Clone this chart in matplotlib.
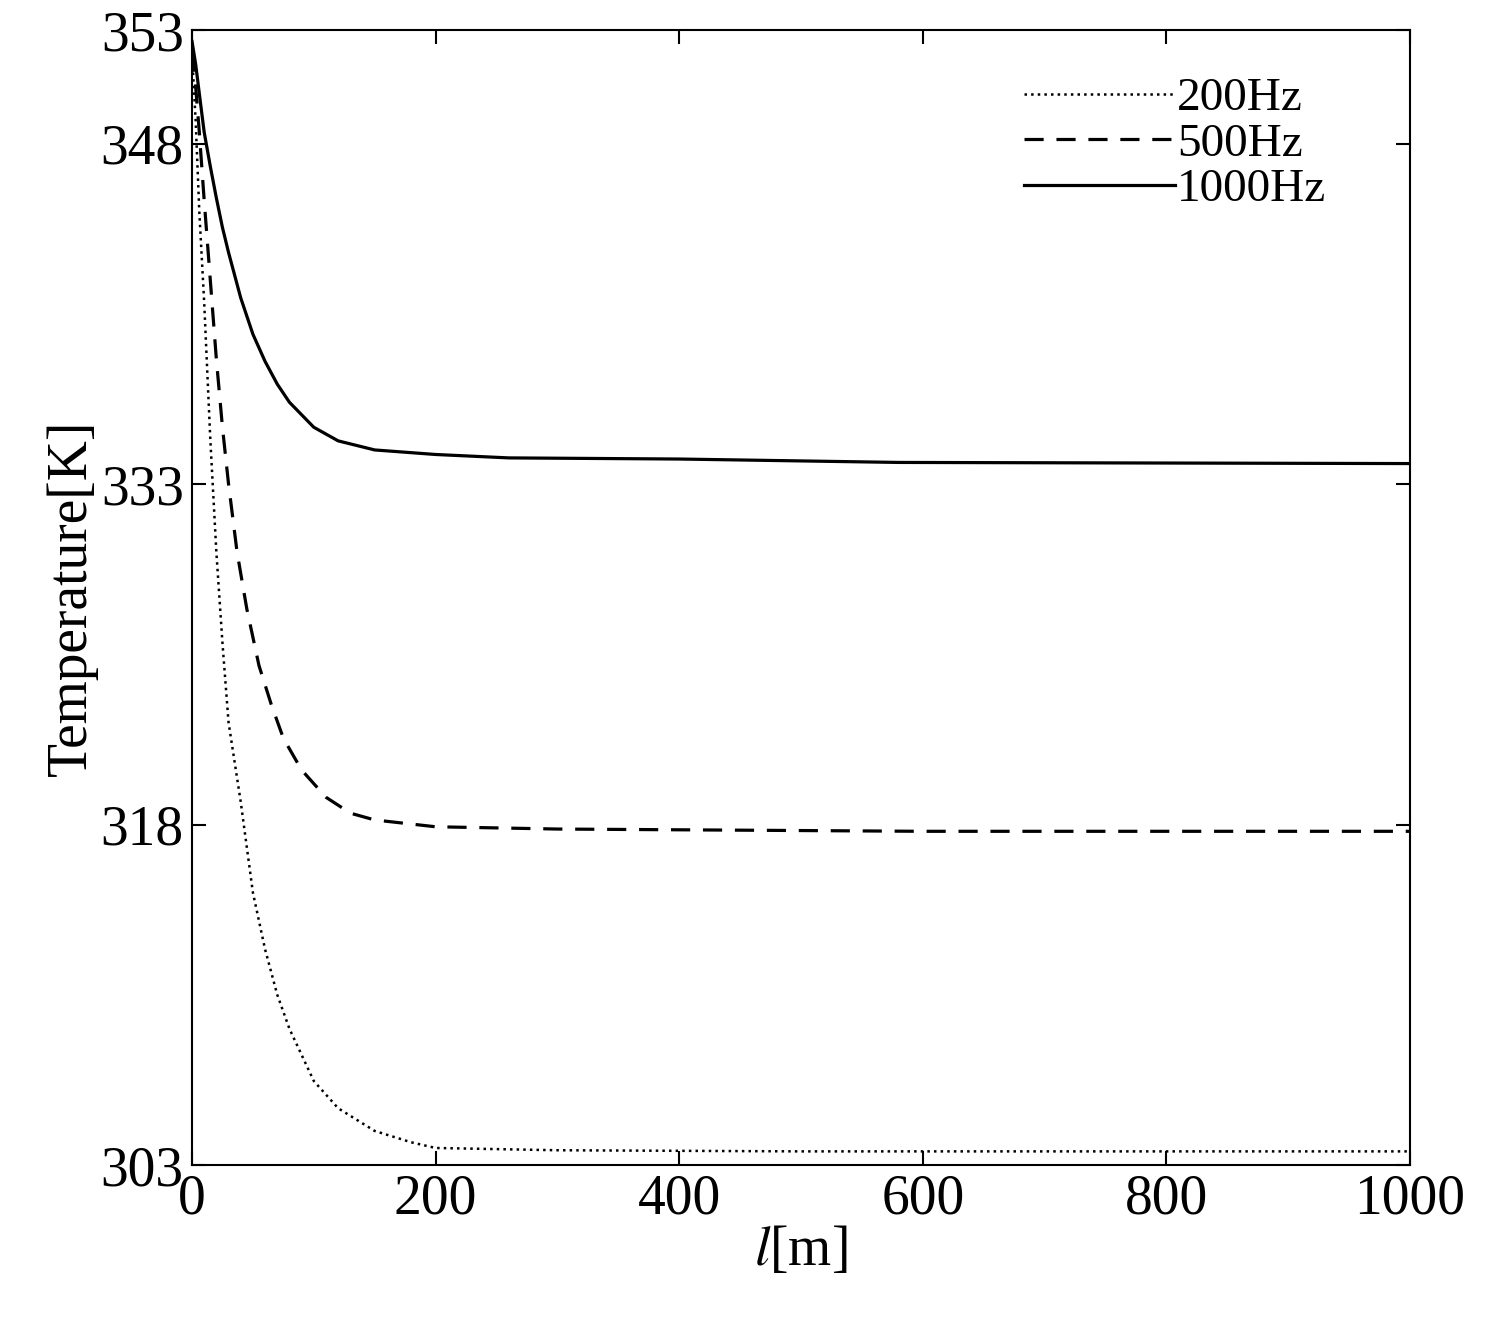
import matplotlib.pyplot as plt

plt.rcParams['font.family'] = ['Liberation Serif', 'DejaVu Serif']
plt.rcParams['mathtext.fontset'] = 'stix'

l_200 = [0, 3, 6, 10, 15, 20, 25, 30, 40, 50, 60, 70, 80, 100, 120, 150, 180, 200, 300, 500, 1000]
t_200 = [352, 349, 345, 341, 335, 330, 326, 322.5, 319, 315, 312.5, 310.5, 309, 306.7, 305.5, 304.5, 304, 303.75, 303.65, 303.6, 303.6]
l_500 = [0, 3, 6, 10, 15, 20, 25, 30, 37, 45, 55, 65, 75, 90, 110, 130, 150, 200, 300, 600, 1000]
t_500 = [352, 350.5, 348.5, 345.5, 342, 338.5, 335.5, 333, 330, 327.5, 325, 323.3, 321.8, 320.4, 319.2, 318.5, 318.2, 317.9, 317.8, 317.7, 317.7]
l_1000 = [0, 3, 6, 10, 15, 20, 25, 30, 40, 50, 60, 70, 80, 100, 120, 150, 200, 260, 400, 580, 1000]
t_1000 = [352.5, 351.5, 350.2, 348.5, 347, 345.6, 344.3, 343.2, 341.2, 339.6, 338.4, 337.4, 336.6, 335.5, 334.9, 334.5, 334.3, 334.15, 334.1, 333.95, 333.9]

fig = plt.figure(figsize=(15.05, 13.28), dpi=100)
ax = fig.add_axes([192/1505, 1 - 1165/1328, (1410-192)/1505, (1165-30)/1328])
ax.plot(l_200, t_200, color='black', linestyle=':', lw=1.8, label='200Hz')
ax.plot(l_500, t_500, color='black', linestyle=(0, (6, 4)), lw=2.3, label='500Hz')
ax.plot(l_1000, t_1000, color='black', linestyle='-', lw=2.3, label='1000Hz')
ax.set_xlim(0, 1000)
ax.set_ylim(303, 353)
ax.set_xticks([0, 200, 400, 600, 800, 1000])
ax.set_yticks([303, 318, 333, 348, 353])
ax.tick_params(direction='in', length=10, width=1.5, labelsize=40, top=True, right=True, pad=6)
for s in ax.spines.values():
    s.set_linewidth(1.5)
ax.set_xlabel(r'$\mathit{l}$[m]', fontsize=40, labelpad=0)
ax.set_ylabel('Temperature[K]', fontsize=40, labelpad=2)
ax.legend(loc='upper right', frameon=False, fontsize=34, handlelength=3.2, handletextpad=0.05,
          labelspacing=0.05, borderaxespad=0.6, bbox_to_anchor=(0.97, 1.0))
fig.savefig('out.png', dpi=100)
